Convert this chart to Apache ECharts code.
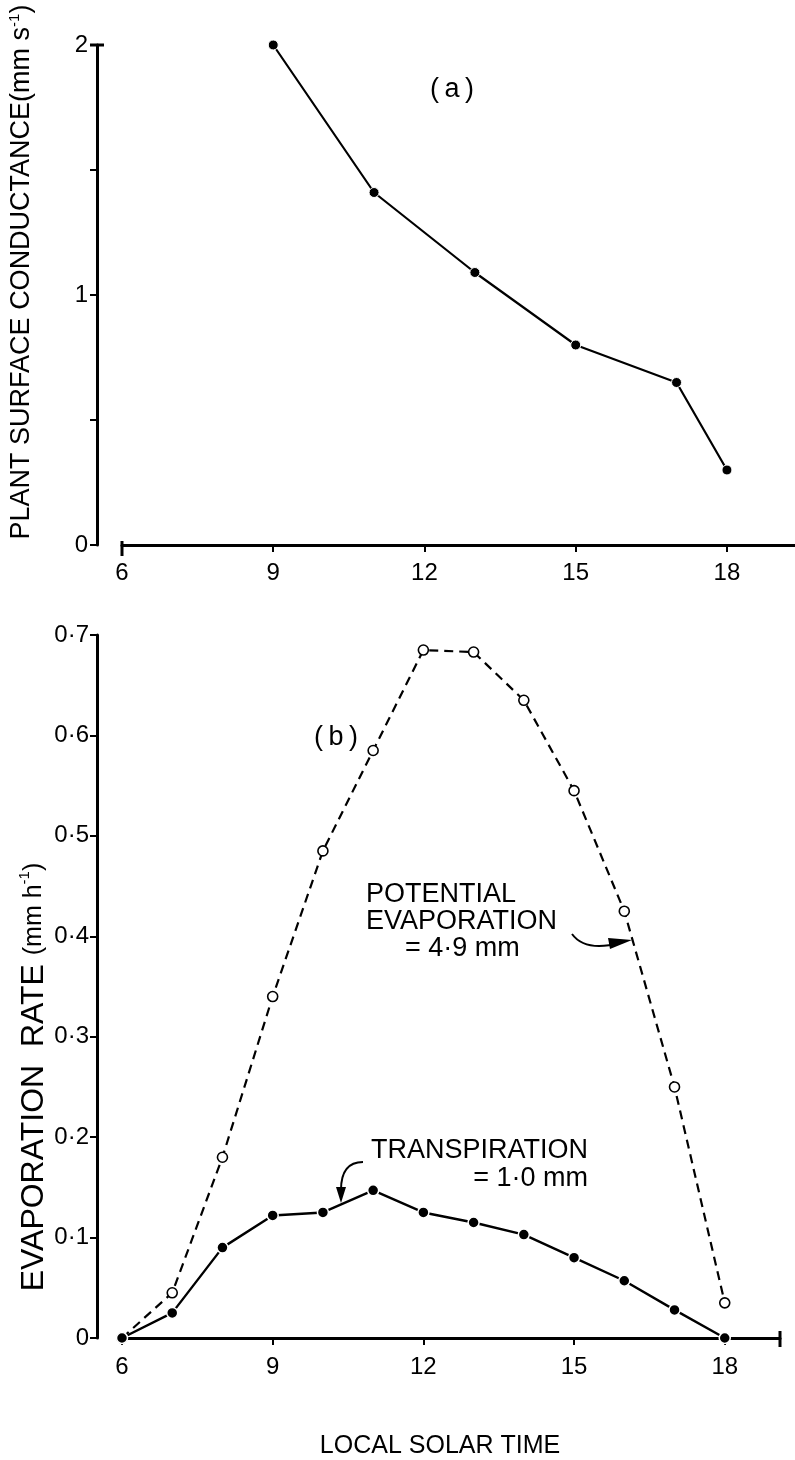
<!DOCTYPE html>
<html>
<head>
<meta charset="utf-8">
<script src="https://cdn.jsdelivr.net/npm/echarts@6/dist/echarts.min.js"></script>
<style>
html,body{margin:0;padding:0;background:#fff;}
#chart{width:795px;height:1460px;}
</style>
</head>
<body>
<div id="chart"></div>
<script>
// ---- data ----
const conductanceHours = [9, 11, 13, 15, 17, 18];
const conductance = [2.0, 1.41, 1.09, 0.80, 0.65, 0.30];

const evapHours = [6, 7, 8, 9, 10, 11, 12, 13, 14, 15, 16, 17, 18];
const potential = [0, 0.045, 0.18, 0.34, 0.485, 0.585, 0.685, 0.683, 0.635, 0.545, 0.425, 0.25, 0.035];
const transpiration = [0, 0.025, 0.09, 0.122, 0.125, 0.147, 0.125, 0.115, 0.103, 0.08, 0.057, 0.028, 0];

const xTicksLabels = [6, 9, 12, 15, 18];
const topYLabels = [0, 1, 2];
const bottomYLabels = ['0', '0·1', '0·2', '0·3', '0·4', '0·5', '0·6', '0·7'];

// ---- chart ----
const FONT = 'Liberation Sans, Arial, Helvetica, sans-serif';
const chart = echarts.init(document.getElementById('chart'));

const pair = (xs, ys) => xs.map((x, i) => [x, ys[i]]);

const axisLine = {show: true, lineStyle: {color: '#000', width: 3}};
const axisTick = {show: true, inside: false, length: 7, lineStyle: {color: '#000', width: 2}};

const option = {
  backgroundColor: '#fff',
  animation: false,
  grid: [
    {left: 122, right: 0, top: 45, height: 500},
    {left: 122, right: 15, top: 635, height: 703}
  ],
  xAxis: [
    {
      gridIndex: 0, type: 'value', min: 6, max: 19.35, interval: 3,
      offset: 3, splitLine: {show: false},
      axisLine: axisLine, axisTick: axisTick,
      axisLabel: {
        color: '#000', fontFamily: FONT, fontSize: 24, margin: 13,
        showMaxLabel: false,
        formatter: v => (xTicksLabels.indexOf(v) >= 0 ? String(v) : '')
      }
    },
    {
      gridIndex: 1, type: 'value', min: 6, max: 19.1, interval: 3,
      splitLine: {show: false},
      axisLine: axisLine, axisTick: axisTick,
      axisLabel: {
        color: '#000', fontFamily: FONT, fontSize: 24, margin: 17,
        showMaxLabel: false,
        formatter: v => (xTicksLabels.indexOf(v) >= 0 ? String(v) : '')
      }
    }
  ],
  yAxis: [
    {
      gridIndex: 0, type: 'value', min: 0, max: 2, interval: 0.5,
      offset: 25, splitLine: {show: false},
      axisLine: axisLine, axisTick: axisTick,
      axisLabel: {
        color: '#000', fontFamily: FONT, fontSize: 24, margin: 9,
        formatter: v => (topYLabels.indexOf(v) >= 0 ? String(v) : '')
      }
    },
    {
      gridIndex: 1, type: 'value', min: 0, max: 0.7, interval: 0.1,
      offset: 25, splitLine: {show: false},
      axisLine: axisLine, axisTick: axisTick,
      axisLabel: {
        color: '#000', fontFamily: FONT, fontSize: 24, margin: 8,
        formatter: v => bottomYLabels[Math.round(v * 10)]
      }
    }
  ],
  series: [
    {
      type: 'line', xAxisIndex: 0, yAxisIndex: 0,
      data: pair(conductanceHours, conductance),
      symbol: 'circle', symbolSize: 10,
      lineStyle: {color: '#000', width: 2.2},
      itemStyle: {color: '#000', borderColor: '#fff', borderWidth: 1}
    },
    {
      type: 'line', xAxisIndex: 1, yAxisIndex: 1,
      data: pair(evapHours, potential),
      symbol: 'circle', symbolSize: 10,
      lineStyle: {color: '#000', width: 2.2, type: [9, 6]},
      itemStyle: {color: '#fff', borderColor: '#000', borderWidth: 1.6}
    },
    {
      type: 'line', xAxisIndex: 1, yAxisIndex: 1,
      data: pair(evapHours, transpiration),
      symbol: 'circle', symbolSize: 11,
      lineStyle: {color: '#000', width: 2.4},
      itemStyle: {color: '#000', borderColor: '#fff', borderWidth: 1.5}
    }
  ],
  graphic: [
    {
      type: 'text', x: 22, y: 272, rotation: Math.PI / 2,
      style: {
        text: '{a|PLANT SURFACE CONDUCTANCE(mm s}{s|-1}{a|)}',
        align: 'center', verticalAlign: 'middle',
        rich: {
          a: {fontFamily: FONT, fontSize: 27, fill: '#000', lineHeight: 30},
          s: {fontFamily: FONT, fontSize: 15, fill: '#000', verticalAlign: 'top', lineHeight: 30}
        }
      }
    },
    {
      type: 'text', x: 34, y: 1077, rotation: Math.PI / 2,
      style: {
        text: '{a|EVAPORATION  RATE }{b|(mm h}{s|-1}{b|)}',
        align: 'center', verticalAlign: 'middle',
        rich: {
          a: {fontFamily: FONT, fontSize: 32, fill: '#000', lineHeight: 34},
          b: {fontFamily: FONT, fontSize: 25, fill: '#000', lineHeight: 34},
          s: {fontFamily: FONT, fontSize: 15, fill: '#000', verticalAlign: 'top', lineHeight: 34}
        }
      }
    },
    {
      type: 'text', x: 452, y: 90,
      style: {text: '(\u2009a\u2009)', font: '27px ' + FONT, fill: '#000', align: 'center', verticalAlign: 'middle'}
    },
    {
      type: 'text', x: 336, y: 738,
      style: {text: '(\u2009b\u2009)', font: '27px ' + FONT, fill: '#000', align: 'center', verticalAlign: 'middle'}
    },
    {
      type: 'text', x: 366, y: 895,
      style: {text: 'POTENTIAL', font: '27px ' + FONT, fill: '#000', align: 'left', verticalAlign: 'middle'}
    },
    {
      type: 'text', x: 366, y: 922,
      style: {text: 'EVAPORATION', font: '27px ' + FONT, fill: '#000', align: 'left', verticalAlign: 'middle'}
    },
    {
      type: 'text', x: 405, y: 949,
      style: {text: '= 4·9 mm', font: '27px ' + FONT, fill: '#000', align: 'left', verticalAlign: 'middle'}
    },
    {
      type: 'text', x: 588, y: 1151,
      style: {text: 'TRANSPIRATION', font: '27px ' + FONT, fill: '#000', align: 'right', verticalAlign: 'middle'}
    },
    {
      type: 'text', x: 588, y: 1179,
      style: {text: '= 1·0 mm', font: '27px ' + FONT, fill: '#000', align: 'right', verticalAlign: 'middle'}
    },
    {
      type: 'text', x: 440, y: 1446,
      style: {text: 'LOCAL SOLAR TIME', font: '25px ' + FONT, fill: '#000', align: 'center', verticalAlign: 'middle'}
    },
    // axis end caps
    {type: 'line', shape: {x1: 90, y1: 45, x2: 104, y2: 45}, style: {stroke: '#000', lineWidth: 3}},
    {type: 'line', shape: {x1: 122, y1: 541, x2: 122, y2: 556}, style: {stroke: '#000', lineWidth: 3}},
    {type: 'line', shape: {x1: 780, y1: 1331, x2: 780, y2: 1347}, style: {stroke: '#000', lineWidth: 3}},
    // arrow for potential evaporation
    {
      type: 'bezierCurve',
      shape: {x1: 572, y1: 934, x2: 620, y2: 943, cpx1: 585, cpy1: 952},
      style: {stroke: '#000', lineWidth: 2, fill: null}
    },
    {
      type: 'polygon',
      shape: {points: [[608, 938], [632, 940], [610, 949]]},
      style: {fill: '#000'}
    },
    // arrow for transpiration
    {
      type: 'bezierCurve',
      shape: {x1: 363, y1: 1162, x2: 341, y2: 1190, cpx1: 341, cpy1: 1162},
      style: {stroke: '#000', lineWidth: 2, fill: null}
    },
    {
      type: 'polygon',
      shape: {points: [[336, 1187], [341, 1203], [346, 1187]]},
      style: {fill: '#000'}
    }
  ]
};
chart.setOption(option);
</script>
</body>
</html>
